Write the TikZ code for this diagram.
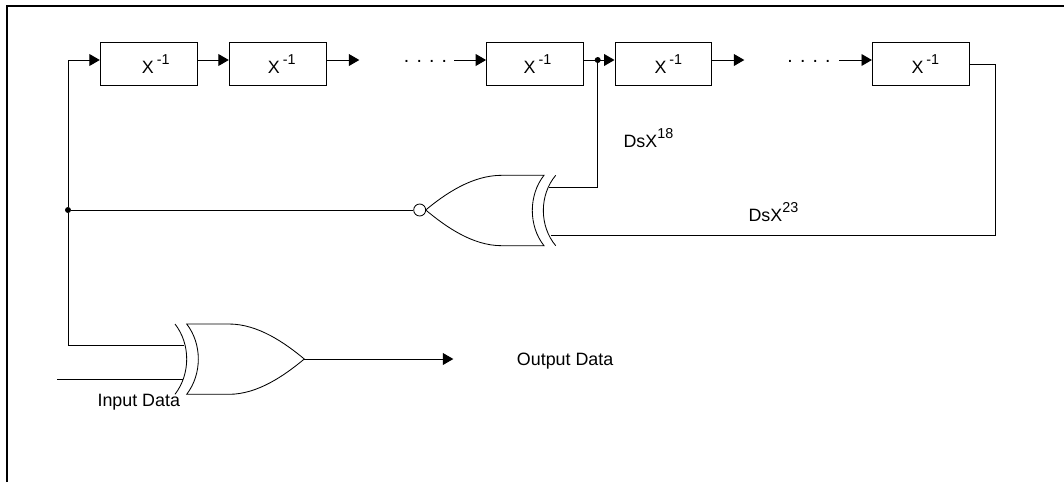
\documentclass[tikz,border=0pt]{standalone}
\usepackage{fontspec}
\setmainfont{Liberation Sans}
\usetikzlibrary{arrows.meta}
\newcommand{\supr}[1]{\raisebox{0.22cm}{\fontsize{10.2}{12}\selectfont #1}}
\newcommand{\regx}[1]{\hspace*{#1}X\,\supr{-1}}

\begin{document}
\begin{tikzpicture}[x=0.025cm,y=-0.025cm,
      lbl/.style={font=\fontsize{12.7}{15}\selectfont,inner sep=0pt,anchor=base west},
      reg/.style={draw,line width=0.7pt,minimum width=2.42cm,minimum height=1.09cm,
                  inner sep=0pt,font=\fontsize{12.7}{15}\selectfont},
      jct/.style={circle,fill,inner sep=0pt,minimum size=0.15cm},
      bub/.style={circle,draw,line width=0.6pt,fill=white,inner sep=0pt,minimum size=0.3cm},
      dots/.style={font=\fontsize{13.8}{15}\selectfont,inner sep=0pt,anchor=base},
      wire/.style={line width=0.7pt},
      gate/.style={line width=0.6pt},
      arr/.style={wire,-{Triangle[length=7.4pt,width=8.4pt]}},
    ]
    \useasboundingbox (0,0) rectangle (1064,482);
    % Frame
    \draw[line width=1.7pt] (7,482) -- (7,6) -- (1064,6);
    % Shift register
    \coordinate (toprow) at (68,60);
    \node[reg] (reg1) at (148.7,63.8) {\regx{10pt}};
    \node[reg] (reg2) at (277.7,63.8) {\regx{5.7pt}};
    \node[reg] (reg3) at (535,63.8)   {\regx{3.6pt}};
    \node[reg] (reg4) at (663.4,63.8) {\regx{7.1pt}};
    \node[reg] (reg5) at (920.8,63.8) {\regx{6.5pt}};
    \coordinate (gapa) at (359.3,60);
    \coordinate (gapb) at (454,60);
    \coordinate (gapc) at (744.3,60);
    \coordinate (gapd) at (839.3,60);
    \node[dots] (dotsa) at (425.5,62) {. . . .};
    \node[dots] (dotsb) at (809,62)   {. . . .};
    % Junctions
    \node[jct] (tap) at (597.7,60) {};
    \node[jct] (fb)  at (68,210) {};
    % Feedback gate
    \node[bub] (nor) at (419.7,210) {};
    \draw[gate] (425.7,210) .. controls (445,194) and (472,175.3) .. (501.7,175.3)
        -- (544,175.3) .. controls (528.4,195) and (528.4,226) .. (544,245.7)
        -- (501.7,245.7) .. controls (472,245.7) and (445,226) .. (425.7,210);
    \draw[gate] (555.7,175.3) .. controls (539.2,195) and (539.2,226) .. (555.7,245.7);
    \coordinate (norina) at (549.3,187);
    \coordinate (norinb) at (550.7,235.7);
    % Output gate
    \draw[gate] (304.3,359) .. controls (285,343) and (258,324) .. (229,324)
        -- (186.7,324) .. controls (202.2,344) and (202.2,374) .. (186.7,394.3)
        -- (229,394.3) .. controls (258,394.3) and (285,375) .. (304.3,359);
    \draw[gate] (175,324) .. controls (190.6,344) and (190.6,374) .. (175,394.3);
    \coordinate (xorout) at (304.3,359);
    \coordinate (xorina) at (184,345);
    \coordinate (xorinb) at (182.7,379.3);
    \coordinate (datain) at (57,379.3);
    \coordinate (dataout) at (453.3,359);
    % Labels
    \node[lbl] (dsa) at (623.3,147.7) {DsX\supr{18}};
    \node[lbl] (dsb) at (748.3,221.7) {DsX\supr{23}};
    \node[lbl] (lin)  at (97.3,406) {Input Data};
    \node[lbl] (lout) at (516.7,365) {Output Data};
    % Connectors
    \draw[arr] (fb) -- (toprow) -- (reg1.west |- toprow);
    \draw[arr] (reg1.east |- toprow) -- (reg2.west |- toprow);
    \draw[arr] (reg2.east |- toprow) -- (gapa);
    \draw[arr] (gapb) -- (reg3.west |- toprow);
    \draw[arr] (reg3.east |- toprow) -- (reg4.west |- toprow);
    \draw[arr] (reg4.east |- toprow) -- (gapc);
    \draw[arr] (gapd) -- (reg5.west |- toprow);
    \draw[wire] (tap) |- (norina);
    \draw[wire] (reg5.east |- 0,64.3) -| (995.3,235.7) -- (norinb);
    \draw[wire] (fb) -- (nor.west);
    \draw[wire] (fb) |- (xorina);
    \draw[wire] (datain) -- (xorinb);
    \draw[arr] (xorout) -- (dataout);
  \end{tikzpicture}
\end{document}
